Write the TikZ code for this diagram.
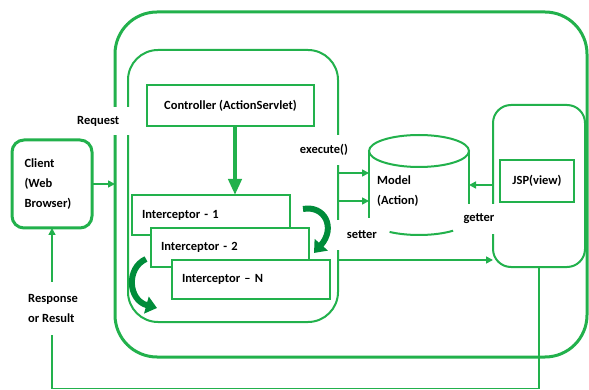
\documentclass[tikz,border=0pt]{standalone}
\usepackage{fontspec}
\setmainfont{Carlito}
\usetikzlibrary{arrows.meta, calc}
\definecolor{strutsgreen}{RGB}{34,177,76}
\definecolor{turngreen}{RGB}{0,140,58}

\begin{document}
\begin{tikzpicture}[x=1pt, y=1pt, >={Triangle[length=7pt, width=7pt]},
    every node/.style={font=\fontsize{12.5}{20}\selectfont\bfseries},
    box/.style={draw=strutsgreen, line width=2pt, fill=white,
                inner sep=0pt, outer sep=0pt, anchor=north west},
    flow/.style={->, draw=strutsgreen, line width=1.6pt},
    tag/.style={fill=white, inner sep=0pt, align=left},
    turn/.style={-{Triangle[length=11pt, width=17pt]}, draw=turngreen,
                 line width=6pt}]

  \useasboundingbox (0,0) rectangle (589,-390);

  \node[box, line width=3pt, rounded corners=42pt,
        minimum width=472pt, minimum height=345pt] (outer) at (115,-12) {};
  \node[box, rounded corners=30pt,
        minimum width=210pt, minimum height=272pt] (inner) at (128,-50) {};

  \node[box, minimum width=167pt, minimum height=41pt] (ctrl) at (147,-85)
    {Controller (ActionServlet)};
  \node[box, minimum width=158pt, minimum height=40pt, text width=138pt,
        align=left] (int1) at (132,-195) {Interceptor - 1};
  \node[box, minimum width=158pt, minimum height=39pt, text width=138pt,
        align=left] (int2) at (151,-228) {Interceptor - 2};
  \node[box, minimum width=158pt, minimum height=39pt, text width=138pt,
        align=left] (intN) at (172,-260) {Interceptor -- N};

  \node[box, line width=3pt, rounded corners=12pt,
        minimum width=80pt, minimum height=88pt, text width=55pt,
        align=left] (client) at (12,-140) {Client\\(Web\\Browser)};

  \node[box, rounded corners=18pt,
        minimum width=92pt, minimum height=162pt] (view) at (493,-105) {};
  \node[box, minimum width=74pt, minimum height=42pt] (jsp) at (500,-160)
    {JSP(view)};

  % model cylinder
  \node[minimum width=100pt, minimum height=68pt, inner sep=0pt,
        outer sep=0pt] (model) at (419,-185) {};
  \draw[strutsgreen, line width=2pt]
    (model.north) ellipse [x radius=50pt, y radius=16pt];
  \draw[strutsgreen, line width=2pt]
    (model.north west) -- ([yshift=1pt]model.south west);
  \draw[strutsgreen, line width=2pt] (model.north east) -- (model.south east);
  \draw[strutsgreen, line width=2pt]
    ([shift={(234:50pt and 16pt)}]model.south)
    arc [start angle=234, end angle=313, x radius=50pt, y radius=16pt];
  \node[tag, anchor=west] (modeltxt) at (377,-191) {Model\\(Action)};

  \draw[flow, line width=4pt, -{Triangle[length=16pt, width=13pt]}]
    ([xshift=4.5pt]ctrl.south) -- ([xshift=4.5pt]ctrl.south |- int1.north);

  \draw[flow] (client.east) -- (outer.west |- client.east);
  \draw[flow] (inner.east |- 0,-173) -- (model.west |- 0,-173);
  \draw[flow] (inner.east |- 0,-201) -- (model.west |- 0,-201);
  \draw[flow] (view.west |- 0,-185) -- (model.east |- 0,-185);
  \draw[flow] (inner.east |- 0,-260) -- (view.west |- 0,-260);

  \coordinate (back) at (539,-388.5);
  \draw[flow] (view.south -| back) -- (back) -- (back -| client.south)
    -- (client.south);

  \draw[turn] (303,-209) .. controls (325,-205) and (336,-228) .. (314,-253);
  \draw[turn] (146,-259) .. controls (126,-268) and (128,-300) .. (157,-308);

  \node[tag, anchor=west, inner xsep=2pt, text width=53pt,
        minimum height=28pt] (req) at (75,-121) {Request};
  \node[tag, inner xsep=2pt, minimum height=30pt] (exec) at (324,-150)
    {execute()};
  \node[tag, anchor=east, inner xsep=1pt, text width=42pt, align=right,
        minimum height=30pt] (set) at (378,-235) {setter};
  \node[tag, minimum width=38pt, minimum height=30pt, align=center] (get)
    at (479,-219) {getter};
  \node[tag, minimum height=53pt] (resp) at (53,-308) {Response\\or Result};
\end{tikzpicture}
\end{document}
